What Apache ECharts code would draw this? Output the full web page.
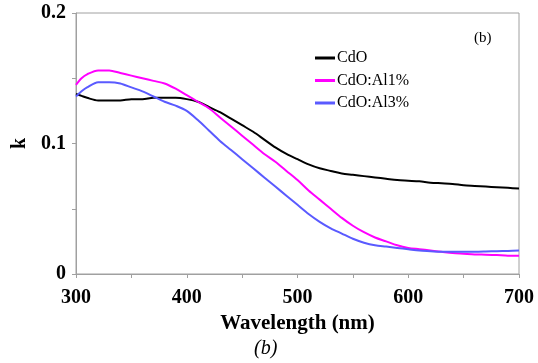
<!DOCTYPE html>
<html>
<head>
<meta charset="utf-8">
<script src="https://cdn.jsdelivr.net/npm/echarts@6/dist/echarts.min.js"></script>
<style>html,body{margin:0;padding:0;background:#fff}#c{width:538px;height:363px}</style>
</head>
<body>
<div id="c"></div>
<script>
const wavelengths = [300,305,310,320,330,340,350,360,370,380,390,400,410,420,430,440,450,460,470,480,490,500,510,520,530,540,550,560,570,580,590,600,610,620,630,640,650,660,670,680,690,700];
const cdo = [0.138,0.1365,0.135,0.133,0.133,0.133,0.134,0.134,0.135,0.135,0.135,0.134,0.132,0.128,0.124,0.119,0.114,0.109,0.103,0.097,0.092,0.088,0.084,0.081,0.079,0.077,0.076,0.075,0.074,0.073,0.072,0.0715,0.071,0.070,0.0695,0.069,0.068,0.0675,0.067,0.0665,0.066,0.0655];
const cdoAl1 = [0.145,0.150,0.153,0.156,0.156,0.154,0.152,0.150,0.148,0.146,0.142,0.137,0.132,0.127,0.120,0.113,0.106,0.099,0.092,0.086,0.079,0.072,0.064,0.057,0.050,0.043,0.037,0.032,0.028,0.025,0.022,0.020,0.019,0.018,0.017,0.016,0.0155,0.015,0.0148,0.0145,0.014,0.014];
const cdoAl3 = [0.136,0.140,0.143,0.147,0.147,0.146,0.143,0.140,0.136,0.132,0.129,0.125,0.118,0.110,0.102,0.095,0.088,0.081,0.074,0.067,0.060,0.053,0.046,0.040,0.035,0.031,0.027,0.024,0.022,0.021,0.020,0.019,0.018,0.0175,0.017,0.017,0.017,0.017,0.0172,0.0175,0.0177,0.018];
const seriesNames = ['CdO','CdO:Al1%','CdO:Al3%'];
const xTickLabels = ['300','400','500','600','700'];
const yTickLabels = ['0','0.1','0.2'];

const F = 'Liberation Serif, Times New Roman, serif';
const chart = echarts.init(document.getElementById('c'), null, {renderer:'canvas'});
function pts(arr){ return wavelengths.map((w,i)=>[w,arr[i]]); }
chart.setOption({
  animation:false,
  grid:{left:76,right:19,top:13,bottom:89,show:true,borderColor:'#a0a0a0',borderWidth:1,backgroundColor:'transparent'},
  legend:{
    orient:'vertical',left:310,top:45,itemWidth:20,itemHeight:3,itemGap:6.5,icon:'rect',
    textStyle:{fontFamily:F,fontSize:16,color:'#000',padding:[0,0,0,-3]},
    data:seriesNames
  },
  xAxis:{
    type:'value',min:300,max:700,interval:50,
    name:'Wavelength (nm)',nameLocation:'middle',nameGap:37,
    nameTextStyle:{fontFamily:F,fontSize:21,fontWeight:'bold',color:'#000'},
    axisLine:{show:true,lineStyle:{color:'#a0a0a0'}},
    axisTick:{show:true,length:4,lineStyle:{color:'#a0a0a0'}},
    splitLine:{show:false},
    axisLabel:{margin:14,fontFamily:F,fontSize:20,fontWeight:'bold',color:'#000',
      formatter:v=>{const s=String(v);return xTickLabels.indexOf(s)>=0?s:'';}}
  },
  yAxis:{
    type:'value',min:0,max:0.2,interval:0.05,
    name:'k',nameLocation:'middle',nameGap:43,
    nameTextStyle:{fontFamily:F,fontSize:20,fontWeight:'bold',color:'#000'},
    axisLine:{show:true,lineStyle:{color:'#a0a0a0'}},
    axisTick:{show:true,length:4,lineStyle:{color:'#a0a0a0'}},
    splitLine:{show:false},
    axisLabel:{margin:10,fontFamily:F,fontSize:20,fontWeight:'bold',color:'#000',
      formatter:v=>{const s=String(Math.round(v*1000)/1000);return yTickLabels.indexOf(s)>=0?s:'';}}
  },
  graphic:[
    {type:'text',left:474,top:31,style:{text:'(b)',font:'15px '+F,fill:'#000'}},
    {type:'text',left:254,top:339,style:{text:'(b)',font:'italic 20px '+F,fill:'#000'}}
  ],
  series:[
    {name:seriesNames[0],type:'line',data:pts(cdo),showSymbol:false,smooth:0.3,lineStyle:{color:'#000',width:2},itemStyle:{color:'#000'}},
    {name:seriesNames[1],type:'line',data:pts(cdoAl1),showSymbol:false,smooth:0.3,lineStyle:{color:'#ff00ff',width:2},itemStyle:{color:'#ff00ff'}},
    {name:seriesNames[2],type:'line',data:pts(cdoAl3),showSymbol:false,smooth:0.3,lineStyle:{color:'#5a5aff',width:2},itemStyle:{color:'#5a5aff'}}
  ]
});
</script>
</body>
</html>
